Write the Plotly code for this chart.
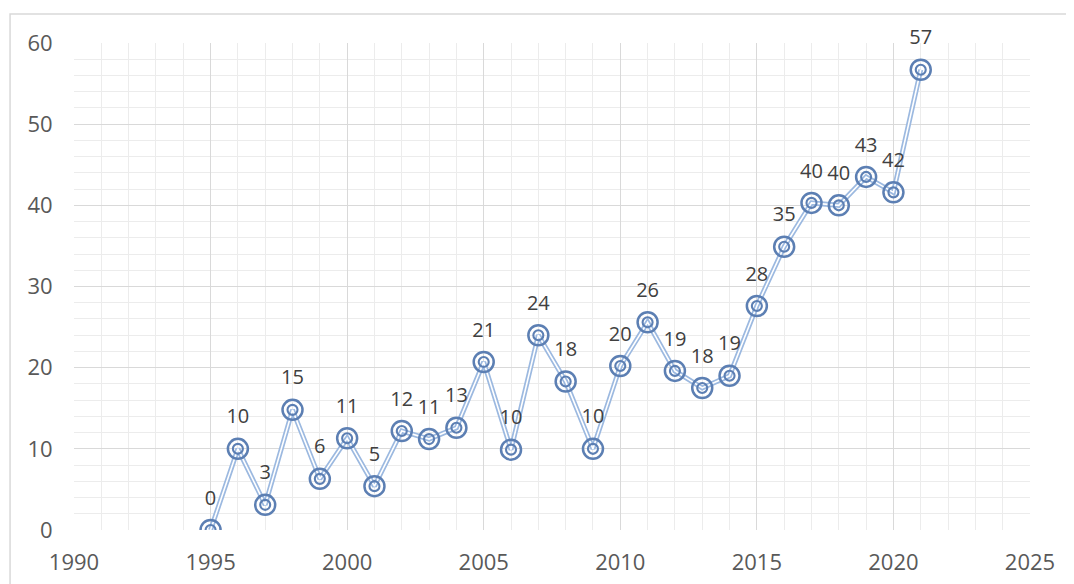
import plotly.graph_objects as go

years = [1995, 1996, 1997, 1998, 1999, 2000, 2001, 2002, 2003, 2004, 2005, 2006, 2007,
         2008, 2009, 2010, 2011, 2012, 2013, 2014, 2015, 2016, 2017, 2018, 2019, 2020, 2021]
values = [0, 10, 3.1, 14.8, 6.3, 11.3, 5.4, 12.2, 11.2, 12.6, 20.7, 9.9, 24.0,
          18.3, 10.0, 20.2, 25.6, 19.6, 17.5, 19.0, 27.6, 34.9, 40.3, 40.0, 43.5, 41.6, 56.7]
labels = ["0", "10", "3", "15", "6", "11", "5", "12", "11", "13", "21", "10", "24",
          "18", "10", "20", "26", "19", "18", "19", "28", "35", "40", "40", "43", "42", "57"]

x_ticks = [1990, 1995, 2000, 2005, 2010, 2015, 2020, 2025]
y_ticks = [0, 10, 20, 30, 40, 50, 60]

line_outer = "#9cb9e0"
ring_color = "#5c7fb3"
font_family = "Open Sans, Liberation Sans, sans-serif"

fig = go.Figure()
# double line: light-blue wide line with a white core
fig.add_trace(go.Scatter(x=years, y=values, mode="lines",
                         line=dict(color=line_outer, width=5), hoverinfo="skip", showlegend=False))
fig.add_trace(go.Scatter(x=years, y=values, mode="lines",
                         line=dict(color="white", width=1.6), hoverinfo="skip", showlegend=False))
# outer ring
fig.add_trace(go.Scatter(x=years, y=values, mode="markers",
                         marker=dict(symbol="circle-open", size=20, color=ring_color,
                                     line=dict(width=2.5, color=ring_color)),
                         showlegend=False))
# inner ring
fig.add_trace(go.Scatter(x=years, y=values, mode="markers",
                         marker=dict(symbol="circle-open", size=10, color=ring_color,
                                     line=dict(width=2.1, color=ring_color)),
                         showlegend=False))
# data labels
fig.add_trace(go.Scatter(x=years, y=values, mode="text+markers",
                         marker=dict(size=31, color="rgba(0,0,0,0)"),
                         text=labels, textposition="top center",
                         textfont=dict(family=font_family, size=20, color="#404040"),
                         cliponaxis=False, hoverinfo="skip", showlegend=False))

fig.update_layout(
    width=1074, height=584,
    margin=dict(l=66, r=52, t=35, b=62),
    paper_bgcolor="white", plot_bgcolor="white",
    font=dict(family=font_family, size=22, color="#595959"),
    xaxis=dict(range=[1990, 2025], tickvals=x_ticks, ticktext=[str(v) for v in x_ticks],
               showgrid=True, gridcolor="#d9d9d9", gridwidth=1,
               minor=dict(dtick=1, showgrid=True, gridcolor="#ececec", gridwidth=1),
               zeroline=False, showline=False, ticks="outside", ticklen=13,
               tickcolor="rgba(0,0,0,0)", fixedrange=True),
    yaxis=dict(range=[0, 60], tickvals=y_ticks,
               showgrid=True, gridcolor="#d9d9d9", gridwidth=1,
               minor=dict(dtick=2, showgrid=True, gridcolor="#ececec", gridwidth=1),
               zeroline=False, showline=False, ticks="outside", ticklen=16,
               tickcolor="rgba(0,0,0,0)", fixedrange=True),
    shapes=[
        dict(type="rect", xref="paper", yref="paper", x0=-0.0669, x1=1.2, y0=-0.3, y1=1.0595,
             line=dict(color="#d9d9d9", width=1.5), fillcolor="rgba(0,0,0,0)", layer="below"),
    ],
)

fig.write_html("out.html")
